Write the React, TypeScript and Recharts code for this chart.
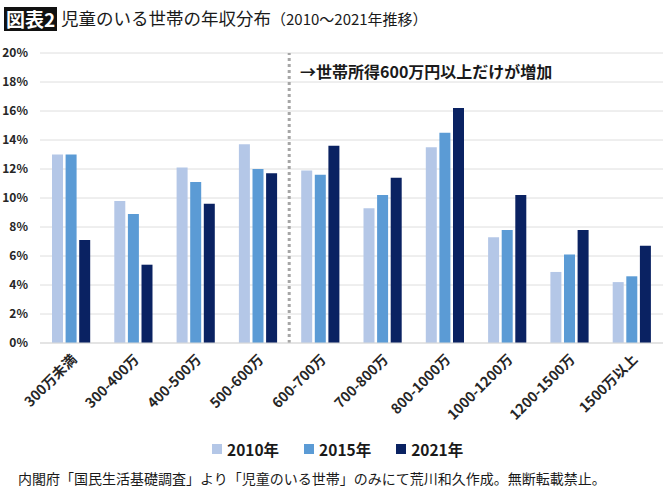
import {
  BarChart,
  Bar,
  XAxis,
  YAxis,
  CartesianGrid,
  ReferenceLine,
} from "recharts";

// income brackets (万円)
const categories = [
  "300万未満",
  "300-400万",
  "400-500万",
  "500-600万",
  "600-700万",
  "700-800万",
  "800-1000万",
  "1000-1200万",
  "1200-1500万",
  "1500万以上",
];

// share of households with children, %
const share2010 = [13.0, 9.8, 12.1, 13.7, 11.9, 9.3, 13.5, 7.3, 4.9, 4.2];
const share2015 = [13.0, 8.9, 11.1, 12.0, 11.6, 10.2, 14.5, 7.8, 6.1, 4.6];
const share2021 = [7.1, 5.4, 9.6, 11.7, 13.6, 11.4, 16.2, 10.2, 7.8, 6.7];

const yTicks = [0, 2, 4, 6, 8, 10, 12, 14, 16, 18, 20];

const series = [
  { key: "y2010", label: "2010年", color: "#b4c7e7", values: share2010 },
  { key: "y2015", label: "2015年", color: "#5b9bd5", values: share2015 },
  { key: "y2021", label: "2021年", color: "#0a2262", values: share2021 },
];

const data = categories.map((name, i) => ({
  name,
  y2010: share2010[i],
  y2015: share2015[i],
  y2021: share2021[i],
}));

const FONT = '"Noto Sans CJK JP", "Noto Sans", sans-serif';

const XTick = ({ x, y, payload }: any) => (
  <g transform={`translate(${x + 3},${y + 12})`}>
    <text
      transform="rotate(-45)"
      textAnchor="end"
      dy="0.35em"
      fontSize={14}
      fontWeight={700}
      fill="#262626"
      fontFamily={FONT}
    >
      {payload.value}
    </text>
  </g>
);

export default function App() {
  return (
    <div
      style={{
        position: "absolute",
        left: 0,
        top: 0,
        width: 670,
        height: 502,
        background: "#fff",
        fontFamily: FONT,
        color: "#1a1a1a",
        overflow: "hidden",
      }}
    >
      {/* title */}
      <div
        style={{
          position: "absolute",
          left: 4,
          top: 7,
          width: 53,
          height: 24,
          background: "#111",
          color: "#fff",
          fontSize: 19,
          fontWeight: 700,
          lineHeight: "24px",
          textAlign: "center",
        }}
      >
        図表2
      </div>
      <div
        style={{
          position: "absolute",
          left: 61,
          top: 5,
          fontSize: 17.5,
          lineHeight: "26px",
          whiteSpace: "nowrap",
        }}
      >
        児童のいる世帯の年収分布
        <span style={{ fontSize: 15 }}>（2010〜2021年推移）</span>
      </div>

      <BarChart
        width={670}
        height={502}
        data={data}
        margin={{ top: 53, right: 7, bottom: 0, left: 0 }}
        barSize={11}
        barGap={2.6}
      >
        <CartesianGrid vertical={false} stroke="#dedede" />
        <XAxis
          dataKey="name"
          interval={0}
          height={159}
          tickLine={false}
          axisLine={{ stroke: "#d9d9d9" }}
          tickSize={0}
          tick={<XTick />}
        />
        <YAxis
          domain={[0, 20]}
          ticks={yTicks}
          width={40}
          tickLine={false}
          axisLine={false}
          tickSize={0}
          tickMargin={12}
          tickFormatter={(v: number) => `${v}%`}
          tick={{ fontSize: 12, fontWeight: 700, fill: "#262626", fontFamily: FONT }}
        />
        {series.map((s) => (
          <Bar key={s.key} dataKey={s.key} fill={s.color} isAnimationActive={false} />
        ))}
        <ReferenceLine
          x="600-700万"
          position="start"
          stroke="#a6a6a6"
          strokeWidth={3}
          strokeDasharray="3 3"
        />
      </BarChart>

      {/* annotation */}
      <div
        style={{
          position: "absolute",
          left: 300,
          top: 61,
          fontSize: 16,
          fontWeight: 700,
          lineHeight: "20px",
          whiteSpace: "nowrap",
        }}
      >
        →世帯所得600万円以上だけが増加
      </div>

      {/* legend */}
      <div
        style={{
          position: "absolute",
          left: 212,
          top: 437,
          display: "flex",
          gap: 25,
        }}
      >
        {series.map((s) => (
          <div
            key={s.key}
            style={{ display: "flex", alignItems: "center", gap: 5, fontSize: 15.5, fontWeight: 700, lineHeight: "24px" }}
          >
            <span style={{ width: 10, height: 10, background: s.color, display: "inline-block" }} />
            {s.label}
          </div>
        ))}
      </div>

      {/* source */}
      <div
        style={{
          position: "absolute",
          left: 18,
          top: 468,
          fontSize: 14,
          lineHeight: "20px",
          whiteSpace: "nowrap",
        }}
      >
        内閣府「国民生活基礎調査」より「児童のいる世帯」のみにて荒川和久作成。無断転載禁止。
      </div>
    </div>
  );
}
